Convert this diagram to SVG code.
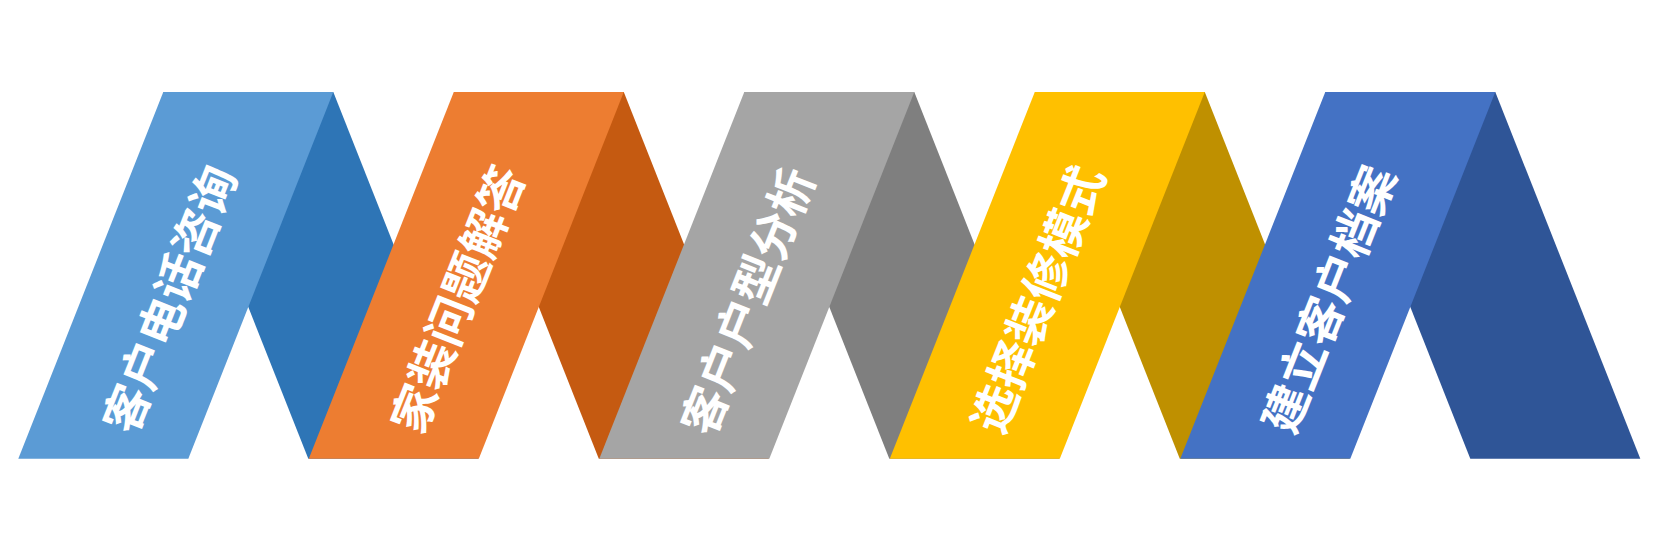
<svg xmlns="http://www.w3.org/2000/svg" width="1657" height="553" viewBox="0 0 1657 553">
<style>
.lbl{font-family:"Noto Sans CJK SC","Noto Sans",sans-serif;font-weight:bold;font-size:47px;fill:#FFFFFF;text-anchor:middle;dominant-baseline:central}
</style>
<rect width="1657" height="553" fill="#FFFFFF"/>
<g id="backs">
<polygon points="163.3,92 333.3,92 478.3,458.7 308.3,458.7" fill="#2E75B6"/>
<polygon points="453.8,92 623.8,92 768.8,458.7 598.8,458.7" fill="#C55A11"/>
<polygon points="744.3,92 914.3,92 1059.3,458.7 889.3,458.7" fill="#7F7F7F"/>
<polygon points="1034.8,92 1204.8,92 1349.8,458.7 1179.8,458.7" fill="#BF9000"/>
<polygon points="1325.3,92 1495.3,92 1640.3,458.7 1470.3,458.7" fill="#2F5597"/>
</g>
<g id="node1">
<polygon points="163.3,92 333.3,92 188.3,458.7 18.3,458.7" fill="#5B9BD5"/>
<text class="lbl" transform="translate(167,298) rotate(-68.4)">客户电话咨询</text>
</g>
<g id="node2">
<polygon points="453.8,92 623.8,92 478.8,458.7 308.8,458.7" fill="#ED7D31"/>
<text class="lbl" transform="translate(455,298) rotate(-68.4)">家装问题解答</text>
</g>
<g id="node3">
<polygon points="744.3,92 914.3,92 769.3,458.7 599.3,458.7" fill="#A5A5A5"/>
<text class="lbl" transform="translate(745,300) rotate(-68.4)">客户户型分析</text>
</g>
<g id="node4">
<polygon points="1034.8,92 1204.8,92 1059.8,458.7 889.8,458.7" fill="#FFC000"/>
<text class="lbl" transform="translate(1035,298) rotate(-68.4)">选择装修模式</text>
</g>
<g id="node5">
<polygon points="1325.3,92 1495.3,92 1350.3,458.7 1180.3,458.7" fill="#4472C4"/>
<text class="lbl" transform="translate(1326,298) rotate(-68.4)">建立客户档案</text>
</g>
</svg>
